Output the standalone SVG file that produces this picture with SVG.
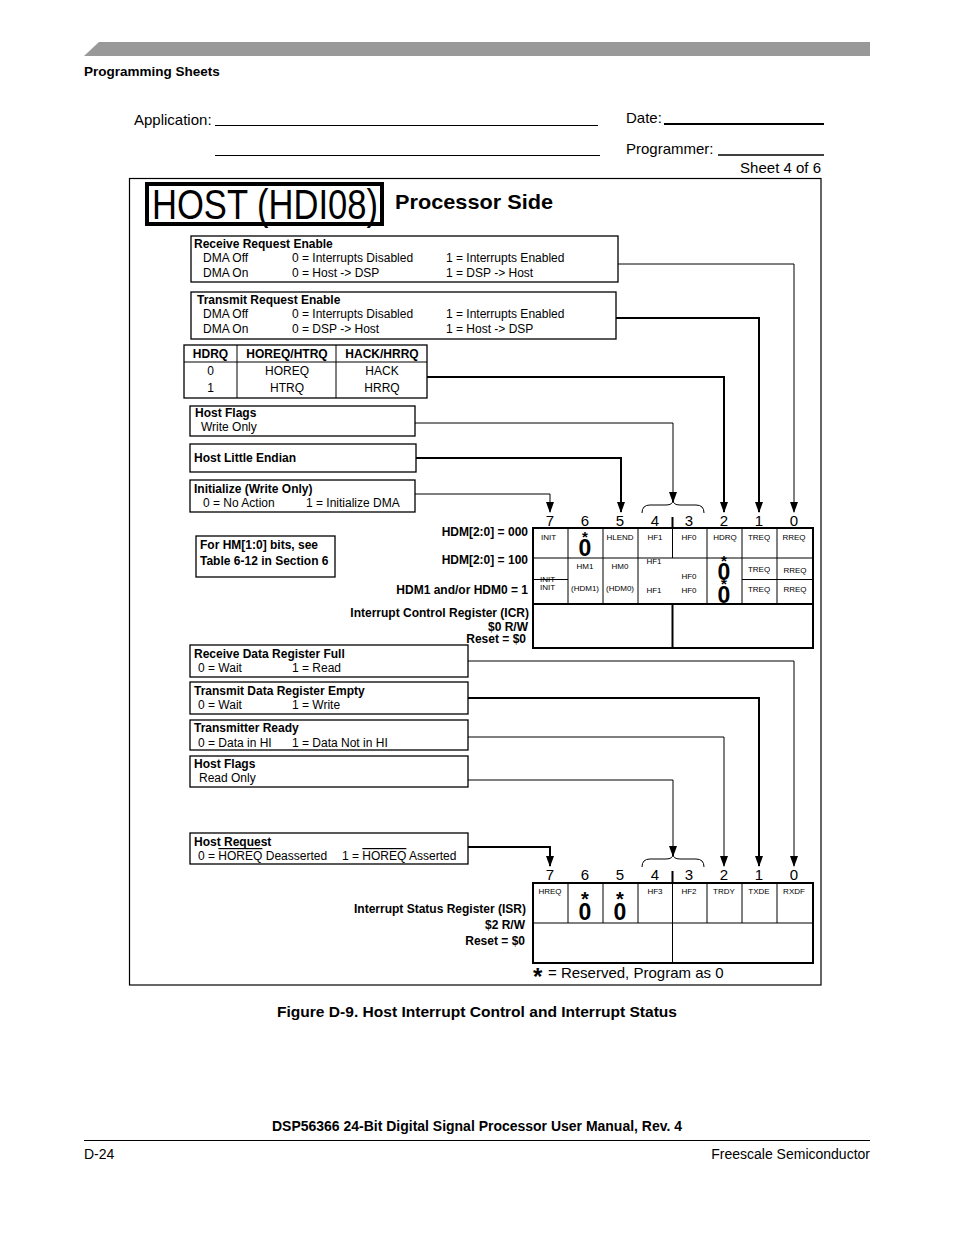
<svg xmlns="http://www.w3.org/2000/svg" width="954" height="1235" viewBox="0 0 954 1235">
<style>
text{font-family:"Liberation Sans",Arial,sans-serif;fill:#000}
.b{font-weight:bold}
.t12{font-size:12px}
.t15{font-size:15px}
.c8{font-size:8px;text-anchor:middle}
.l8{font-size:8px}
.bit{font-size:15px;text-anchor:middle}
.r{text-anchor:end}
.box{fill:#fff;stroke:#000;stroke-width:1.3}
.cell{fill:none;stroke:#000;stroke-width:1}
.thin{fill:none;stroke:#000;stroke-width:1}
.thick{fill:none;stroke:#000;stroke-width:2}
.z{font-size:23px;font-weight:bold;text-anchor:middle}
.st{font-size:20px;font-weight:bold;text-anchor:middle}
.ss{font-size:15px;font-weight:bold;text-anchor:middle}
</style>
<defs>
<marker id="ah" markerUnits="userSpaceOnUse" markerWidth="11" markerHeight="8" refX="10" refY="4" orient="auto">
<path d="M0,0 L11,4 L0,8 z" fill="#000"/>
</marker>
</defs>
<rect width="954" height="1235" fill="#fff"/>
<!-- page header -->
<polygon points="84,56 99,42 870,42 870,56" fill="#999"/>
<text x="84" y="76" class="b" font-size="13.5">Programming Sheets</text>
<!-- form header -->
<text x="134" y="125" class="t15">Application:</text>
<line x1="215" y1="125.5" x2="598" y2="125.5" stroke="#000" stroke-width="1"/>
<line x1="215" y1="155.5" x2="600" y2="155.5" stroke="#000" stroke-width="1"/>
<text x="626" y="123" class="t15">Date:</text>
<line x1="664" y1="124" x2="824" y2="124" stroke="#000" stroke-width="2"/>
<text x="626" y="154" class="t15">Programmer:</text>
<line x1="718" y1="155" x2="824" y2="155" stroke="#000" stroke-width="1.3"/>
<text x="821" y="173" class="t15 r">Sheet 4 of 6</text>
<rect x="129.5" y="178.5" width="691.5" height="806.5" fill="none" stroke="#000" stroke-width="1.2"/>
<g id="title">
<rect x="147" y="184" width="235" height="40" fill="none" stroke="#000" stroke-width="4"/>
<text x="152" y="219" font-size="42" textLength="226" lengthAdjust="spacingAndGlyphs">HOST (HDI08)</text>
<text x="395" y="209" class="b" font-size="21" textLength="158" lengthAdjust="spacingAndGlyphs">Processor Side</text>
</g>
<!-- connectors -->
<g id="connectors">
<polyline class="thin" points="618,264 794,264 794,512" marker-end="url(#ah)"/>
<polyline class="thick" points="616,318 759,318 759,512" marker-end="url(#ah)"/>
<polyline class="thick" points="427,377 724,377 724,512" marker-end="url(#ah)"/>
<polyline class="thin" points="415,423 673,423 673,502" marker-end="url(#ah)"/>
<polyline class="thick" points="416,458 621,458 621,512" marker-end="url(#ah)"/>
<polyline class="thin" points="415,494 550,494 550,512" marker-end="url(#ah)"/>
<path class="thin" d="M642,513 Q642,505 650,505 L666,505 Q673,505 673,500 Q673,505 680,505 L696,505 Q704,505 704,513"/>
<line x1="672.5" y1="517" x2="672.5" y2="528" stroke="#000" stroke-width="2"/>
<polyline class="thin" points="468,661 794,661 794,866" marker-end="url(#ah)"/>
<polyline class="thick" points="468,698 759,698 759,866" marker-end="url(#ah)"/>
<polyline class="thin" points="468,737 724,737 724,866" marker-end="url(#ah)"/>
<polyline class="thin" points="468,780 673,780 673,856" marker-end="url(#ah)"/>
<polyline class="thick" points="468,847 550,847 550,866" marker-end="url(#ah)"/>
<path class="thin" d="M642,867 Q642,859 650,859 L666,859 Q673,859 673,854 Q673,859 680,859 L696,859 Q704,859 704,867"/>
<line x1="672.5" y1="871" x2="672.5" y2="883" stroke="#000" stroke-width="2"/>
</g>
<!-- upper boxes -->
<g id="rre">
<rect class="box" x="191" y="236" width="427" height="46"/>
<text x="194" y="248" class="b t12">Receive Request Enable</text>
<text x="203" y="262" class="t12">DMA Off</text>
<text x="292" y="262" class="t12">0 = Interrupts Disabled</text>
<text x="446" y="262" class="t12">1 = Interrupts Enabled</text>
<text x="203" y="277" class="t12">DMA On</text>
<text x="292" y="277" class="t12">0 = Host -&gt; DSP</text>
<text x="446" y="277" class="t12">1 = DSP -&gt; Host</text>
</g>
<g id="tre">
<rect class="box" x="191" y="292" width="425" height="47"/>
<text x="197" y="304" class="b t12">Transmit Request Enable</text>
<text x="203" y="318" class="t12">DMA Off</text>
<text x="292" y="318" class="t12">0 = Interrupts Disabled</text>
<text x="446" y="318" class="t12">1 = Interrupts Enabled</text>
<text x="203" y="333" class="t12">DMA On</text>
<text x="292" y="333" class="t12">0 = DSP -&gt; Host</text>
<text x="446" y="333" class="t12">1 = Host -&gt; DSP</text>
</g>
<g id="hdrq">
<rect class="box" x="184" y="345" width="243" height="53"/>
<line class="cell" x1="184" y1="362" x2="427" y2="362"/>
<line class="cell" x1="237" y1="345" x2="237" y2="398"/>
<line class="cell" x1="336" y1="345" x2="336" y2="398"/>
<text x="210.5" y="358" class="b t12" text-anchor="middle">HDRQ</text>
<text x="287" y="358" class="b t12" text-anchor="middle">HOREQ/HTRQ</text>
<text x="382" y="358" class="b t12" text-anchor="middle">HACK/HRRQ</text>
<text x="210.5" y="375" class="t12" text-anchor="middle">0</text>
<text x="287" y="375" class="t12" text-anchor="middle">HOREQ</text>
<text x="382" y="375" class="t12" text-anchor="middle">HACK</text>
<text x="210.5" y="392" class="t12" text-anchor="middle">1</text>
<text x="287" y="392" class="t12" text-anchor="middle">HTRQ</text>
<text x="382" y="392" class="t12" text-anchor="middle">HRRQ</text>
</g>
<g id="hfw">
<rect class="box" x="190" y="406" width="225" height="30"/>
<text x="195" y="417" class="b t12">Host Flags</text>
<text x="201" y="431" class="t12">Write Only</text>
</g>
<g id="hlend">
<rect class="box" x="190" y="444" width="226" height="28"/>
<text x="194" y="462" class="b t12">Host Little Endian</text>
</g>
<g id="init">
<rect class="box" x="190" y="480" width="225" height="32"/>
<text x="194" y="493" class="b t12">Initialize (Write Only)</text>
<text x="203" y="507" class="t12">0 = No Action</text>
<text x="306" y="507" class="t12">1 = Initialize DMA</text>
</g>
<g id="hmnote">
<rect class="box" x="196" y="536" width="139" height="41"/>
<text x="200" y="549" class="b t12">For HM[1:0] bits, see</text>
<text x="200" y="565" class="b t12">Table 6-12 in Section 6</text>
</g>
<!-- ICR labels -->
<g id="icr-labels">
<text x="528" y="536" class="b t12 r">HDM[2:0] = 000</text>
<text x="528" y="564" class="b t12 r">HDM[2:0] = 100</text>
<text x="528" y="594" class="b t12 r">HDM1 and/or HDM0 = 1</text>
<text x="529" y="617" class="b t12 r">Interrupt Control Register (ICR)</text>
<text x="528" y="631" class="b t12 r">$0 R/W</text>
<text x="526" y="643" class="b t12 r">Reset = $0</text>
</g>
<g id="icr-bits">
<text x="550" y="526" class="bit">7</text>
<text x="585" y="526" class="bit">6</text>
<text x="620" y="526" class="bit">5</text>
<text x="655" y="526" class="bit">4</text>
<text x="689" y="526" class="bit">3</text>
<text x="724" y="526" class="bit">2</text>
<text x="759" y="526" class="bit">1</text>
<text x="794" y="526" class="bit">0</text>
</g>
<g id="icr">
<rect x="533" y="528" width="280" height="120" fill="none" stroke="#000" stroke-width="2"/>
<line class="cell" x1="533" y1="558" x2="813" y2="558"/>
<line class="cell" x1="533" y1="579.5" x2="568" y2="579.5"/>
<line class="cell" x1="742" y1="579.5" x2="813" y2="579.5"/>
<line x1="533" y1="604" x2="813" y2="604" stroke="#000" stroke-width="2"/>
<line class="cell" x1="568" y1="528" x2="568" y2="604"/>
<line class="cell" x1="603" y1="528" x2="603" y2="604"/>
<line class="cell" x1="638" y1="528" x2="638" y2="604"/>
<line class="cell" x1="672.5" y1="528" x2="672.5" y2="558"/>
<line class="cell" x1="707" y1="528" x2="707" y2="604"/>
<line class="cell" x1="742" y1="528" x2="742" y2="604"/>
<line class="cell" x1="777" y1="528" x2="777" y2="604"/>
<line x1="672.5" y1="604" x2="672.5" y2="648" stroke="#000" stroke-width="2"/>
<text x="541" y="540" class="l8">INIT</text>
<text x="585" y="542" class="ss">*</text>
<text x="585" y="556" class="z">0</text>
<text x="620" y="540" class="c8">HLEND</text>
<text x="655" y="540" class="c8">HF1</text>
<text x="689" y="540" class="c8">HF0</text>
<text x="725" y="540" class="c8">HDRQ</text>
<text x="759" y="540" class="c8">TREQ</text>
<text x="794" y="540" class="c8">RREQ</text>
<text x="585" y="569" class="c8">HM1</text>
<text x="620" y="569" class="c8">HM0</text>
<text x="654" y="564" class="c8">HF1</text>
<text x="689" y="579" class="c8">HF0</text>
<text x="724" y="566" class="ss">*</text>
<text x="724" y="580" class="z">0</text>
<text x="724" y="589" class="ss">*</text>
<text x="724" y="603" class="z">0</text>
<text x="759" y="572" class="c8">TREQ</text>
<text x="795" y="573" class="c8">RREQ</text>
<text x="540" y="582" class="l8">INIT</text>
<text x="540" y="590" class="l8">INIT</text>
<text x="585" y="591" class="c8">(HDM1)</text>
<text x="620" y="591" class="c8">(HDM0)</text>
<text x="654" y="593" class="c8">HF1</text>
<text x="689" y="593" class="c8">HF0</text>
<text x="759" y="592" class="c8">TREQ</text>
<text x="795" y="592" class="c8">RREQ</text>
</g>
<!-- lower boxes -->
<g id="rdrf">
<rect class="box" x="190" y="645" width="278" height="32"/>
<text x="194" y="658" class="b t12">Receive Data Register Full</text>
<text x="198" y="672" class="t12">0 = Wait</text>
<text x="292" y="672" class="t12">1 = Read</text>
</g>
<g id="tdre">
<rect class="box" x="190" y="682" width="278" height="32"/>
<text x="194" y="695" class="b t12">Transmit Data Register Empty</text>
<text x="198" y="709" class="t12">0 = Wait</text>
<text x="292" y="709" class="t12">1 = Write</text>
</g>
<g id="trdy">
<rect class="box" x="190" y="720" width="278" height="30"/>
<text x="194" y="732" class="b t12">Transmitter Ready</text>
<text x="198" y="747" class="t12">0 = Data in HI</text>
<text x="292" y="747" class="t12">1 = Data Not in HI</text>
</g>
<g id="hfr">
<rect class="box" x="190" y="756" width="278" height="31"/>
<text x="194" y="768" class="b t12">Host Flags</text>
<text x="199" y="782" class="t12">Read Only</text>
</g>
<g id="hreq">
<rect class="box" x="190" y="833" width="278" height="31"/>
<text x="194" y="846" class="b t12">Host Request</text>
<text x="198" y="860" class="t12">0 = <tspan style="text-decoration:overline">HOREQ</tspan> Deasserted</text>
<text x="342" y="860" class="t12">1 = <tspan style="text-decoration:overline">HOREQ</tspan> Asserted</text>
</g>
<g id="isr-labels">
<text x="526" y="913" class="b t12 r">Interrupt Status Register (ISR)</text>
<text x="525" y="929" class="b t12 r">$2 R/W</text>
<text x="525" y="945" class="b t12 r">Reset = $0</text>
</g>
<g id="isr-bits">
<text x="550" y="880" class="bit">7</text>
<text x="585" y="880" class="bit">6</text>
<text x="620" y="880" class="bit">5</text>
<text x="655" y="880" class="bit">4</text>
<text x="689" y="880" class="bit">3</text>
<text x="724" y="880" class="bit">2</text>
<text x="759" y="880" class="bit">1</text>
<text x="794" y="880" class="bit">0</text>
</g>
<g id="isr">
<rect x="533" y="883" width="280" height="80" fill="none" stroke="#000" stroke-width="2"/>
<line class="cell" x1="533" y1="923" x2="813" y2="923"/>
<line class="cell" x1="568" y1="883" x2="568" y2="923"/>
<line class="cell" x1="603" y1="883" x2="603" y2="923"/>
<line class="cell" x1="638" y1="883" x2="638" y2="923"/>
<line class="cell" x1="672.5" y1="883" x2="672.5" y2="963"/>
<line class="cell" x1="707" y1="883" x2="707" y2="923"/>
<line class="cell" x1="742" y1="883" x2="742" y2="923"/>
<line class="cell" x1="777" y1="883" x2="777" y2="923"/>
<text x="550" y="894" class="c8">HREQ</text>
<text x="585" y="906" class="st" font-size="27">*</text>
<text x="585" y="920" class="z">0</text>
<text x="620" y="906" class="st" font-size="27">*</text>
<text x="620" y="920" class="z">0</text>
<text x="655" y="894" class="c8">HF3</text>
<text x="689" y="894" class="c8">HF2</text>
<text x="724" y="894" class="c8">TRDY</text>
<text x="759" y="894" class="c8">TXDE</text>
<text x="794" y="894" class="c8">RXDF</text>
</g>
<text x="533" y="985" class="b" font-size="24">*</text>
<text x="548" y="978" class="t15">= Reserved, Program as 0</text>
<!-- caption & footer -->
<text x="477" y="1017" class="b t15" text-anchor="middle" textLength="400" lengthAdjust="spacingAndGlyphs">Figure D-9. Host Interrupt Control and Interrupt Status</text>
<text x="477" y="1131" class="b" font-size="14" text-anchor="middle" textLength="410" lengthAdjust="spacingAndGlyphs">DSP56366 24-Bit Digital Signal Processor User Manual, Rev. 4</text>
<line x1="84" y1="1140.5" x2="870" y2="1140.5" stroke="#000" stroke-width="1"/>
<text x="84" y="1159" font-size="14">D-24</text>
<text x="870" y="1159" font-size="14" text-anchor="end">Freescale Semiconductor</text>
</svg>
